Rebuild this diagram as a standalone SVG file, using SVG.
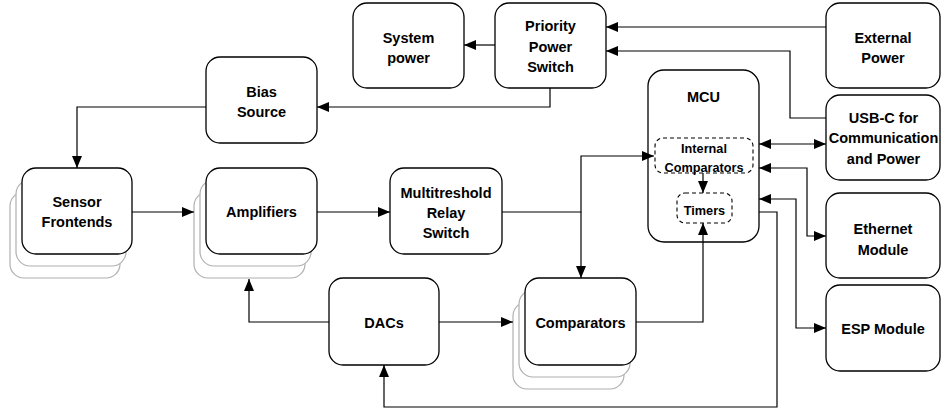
<svg xmlns="http://www.w3.org/2000/svg" width="941" height="412" viewBox="0 0 941 412">
<style>
.box{fill:#fff;stroke:#000;stroke-width:1.3}
.sh{fill:#fff;stroke:#b0b0b0;stroke-width:1.2}
.dash{fill:#fff;stroke:#000;stroke-width:1.1;stroke-dasharray:4 3}
.t{font-family:"Liberation Sans",Arial,sans-serif;font-weight:bold;font-size:14.5px;fill:#000;text-anchor:middle}
.s{font-family:"Liberation Sans",Arial,sans-serif;font-weight:bold;font-size:12.7px;fill:#000;text-anchor:middle}
.c{fill:none;stroke:#000;stroke-width:1.2}
.ar{marker-end:url(#a)}
.bi{marker-start:url(#a);marker-end:url(#a)}
</style>
<defs>
<marker id="a" viewBox="0 0 12 10" refX="12" refY="5" markerWidth="12" markerHeight="10" markerUnits="userSpaceOnUse" orient="auto-start-reverse">
<path d="M0,0 L12,5 L0,10 z" fill="#000"/>
</marker>
</defs>
<rect width="941" height="412" fill="#fff"/>
<g id="system-power">
<rect class="box" x="353" y="3" width="111" height="85" rx="14"/>
<text class="t" x="408.5" y="43">System</text>
<text class="t" x="408.5" y="63">power</text>
</g>
<g id="priority-power-switch">
<rect class="box" x="495" y="3" width="111" height="85" rx="14"/>
<text class="t" x="550.5" y="31">Priority</text>
<text class="t" x="550.5" y="52">Power</text>
<text class="t" x="550.5" y="72">Switch</text>
</g>
<g id="external-power">
<rect class="box" x="826" y="3" width="114" height="85" rx="14"/>
<text class="t" x="883" y="43">External</text>
<text class="t" x="883" y="63">Power</text>
</g>
<g id="usb-c">
<rect class="box" x="826" y="95" width="114" height="85" rx="14"/>
<text class="t" x="883.5" y="123">USB-C for</text>
<text class="t" x="883.5" y="143">Communication</text>
<text class="t" x="883.5" y="164">and Power</text>
</g>
<g id="bias-source">
<rect class="box" x="206" y="57" width="111" height="86" rx="14"/>
<text class="t" x="261.5" y="97">Bias</text>
<text class="t" x="261.5" y="117">Source</text>
</g>
<g id="mcu">
<rect class="box" x="648" y="70" width="111" height="172" rx="16"/>
<text class="t" x="703.5" y="102">MCU</text>
<g id="internal-comparators">
<rect class="dash" x="655" y="138" width="98" height="35" rx="8"/>
<text class="s" x="704" y="152.5">Internal</text>
<text class="s" x="704" y="171.5">Comparators</text>
</g>
<g id="timers">
<rect class="dash" x="677" y="193" width="55" height="30" rx="8"/>
<text class="s" x="704.5" y="214.5">Timers</text>
</g>
</g>
<g id="sensor-frontends">
<rect class="sh" x="10" y="192" width="110" height="86" rx="14"/>
<rect class="sh" x="16" y="180" width="110" height="86" rx="14"/>
<rect class="box" x="22" y="168" width="110" height="86" rx="14"/>
<text class="t" x="77" y="207">Sensor</text>
<text class="t" x="77" y="227">Frontends</text>
</g>
<g id="amplifiers">
<rect class="sh" x="194" y="192" width="111" height="86" rx="14"/>
<rect class="sh" x="200" y="180" width="111" height="86" rx="14"/>
<rect class="box" x="206" y="168" width="111" height="86" rx="14"/>
<text class="t" x="261.5" y="217">Amplifiers</text>
</g>
<g id="multitreshold-relay-switch">
<rect class="box" x="390" y="168" width="112" height="86" rx="14"/>
<text class="t" x="446" y="198">Multitreshold</text>
<text class="t" x="446" y="218">Relay</text>
<text class="t" x="446" y="238">Switch</text>
</g>
<g id="dacs">
<rect class="box" x="329" y="278" width="110" height="87" rx="14"/>
<text class="t" x="384" y="328">DACs</text>
</g>
<g id="comparators">
<rect class="sh" x="513" y="302" width="111" height="87" rx="14"/>
<rect class="sh" x="519" y="290" width="111" height="87" rx="14"/>
<rect class="box" x="525" y="278" width="111" height="87" rx="14"/>
<text class="t" x="580.5" y="328">Comparators</text>
</g>
<g id="ethernet-module">
<rect class="box" x="826" y="193" width="114" height="85" rx="14"/>
<text class="t" x="883" y="234">Ethernet</text>
<text class="t" x="883" y="255">Module</text>
</g>
<g id="esp-module">
<rect class="box" x="826" y="285" width="114" height="86" rx="14"/>
<text class="t" x="883" y="334">ESP Module</text>
</g>
<g id="connectors">
<path class="c ar" d="M826,27 H606"/>
<path class="c ar" d="M826,118 H790 V51 H606"/>
<path class="c ar" d="M495,45 H464"/>
<path class="c ar" d="M550,88 V107 H317"/>
<path class="c ar" d="M206,107 H77 V168"/>
<path class="c ar" d="M132,212 H194"/>
<path class="c ar" d="M317,212 H390"/>
<path class="c ar" d="M502,212 H581 V156 H654"/>
<path class="c ar" d="M581,212 V278"/>
<path class="c ar" d="M329,322 H249 V279"/>
<path class="c ar" d="M439,322 H513"/>
<path class="c ar" d="M636,322 H703 V223"/>
<path class="c ar" d="M703,173 V193"/>
<path class="c bi" d="M759,144 H826"/>
<path class="c bi" d="M759,168 H807 V236 H826"/>
<path class="c bi" d="M759,199 H796 V328 H826"/>
<path class="c ar" d="M759,212 H777 V407 H384 V365"/>
</g>
</svg>
